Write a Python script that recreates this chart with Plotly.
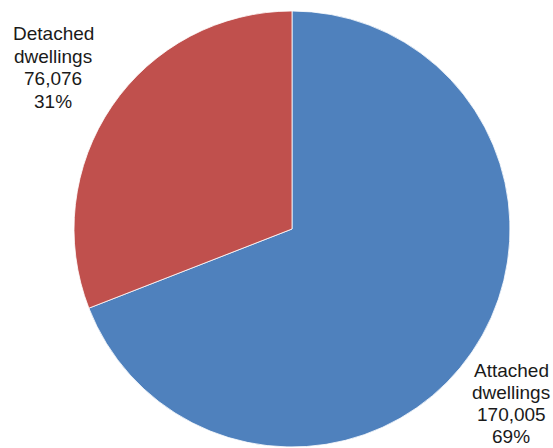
import plotly.graph_objects as go

categories = ["Attached dwellings", "Detached dwellings"]
label_lines = [["Attached", "dwellings"], ["Detached", "dwellings"]]
values = [170005, 76076]
colors = ["#4F81BD", "#C0504D"]

W, H = 553, 448
cx, cy, r = 292, 229, 218

total = sum(values)
fig = go.Figure(go.Pie(
    labels=categories,
    values=values,
    sort=False,
    direction="clockwise",
    rotation=0,
    textinfo="none",
    hoverinfo="label+value+percent",
    marker=dict(colors=colors, line=dict(color="white", width=0.8)),
    domain=dict(x=[(cx - r) / W, (cx + r) / W], y=[(H - cy - r) / H, (H - cy + r) / H]),
    showlegend=False,
))

# label block: (center x, first line center y, line gap) in page pixels
label_pos = [(511, 370.5, 22.1), (53, 33.5, 22.5)]
annotations = []
for lines, v, (lx, ly, gap) in zip(label_lines, values, label_pos):
    pct = round(100 * v / total)
    all_lines = lines + [f"{v:,}", f"{pct}%"]
    for i, t in enumerate(all_lines):
        y_px = ly + i * gap
        annotations.append(dict(
            x=lx / W, y=1 - y_px / H, xref="paper", yref="paper",
            text=t, showarrow=False, align="center",
            xanchor="center", yanchor="middle",
            font=dict(family="Liberation Sans, Arial, sans-serif", size=19, color="#1a1a1a"),
        ))

fig.update_layout(
    width=W, height=H,
    margin=dict(l=0, r=0, t=0, b=0),
    paper_bgcolor="white", plot_bgcolor="white",
    annotations=annotations,
)

fig.write_html(
    "out.html",
    config={"displayModeBar": False},
    post_script="document.body.style.margin='0';document.body.style.overflow='hidden';",
)
